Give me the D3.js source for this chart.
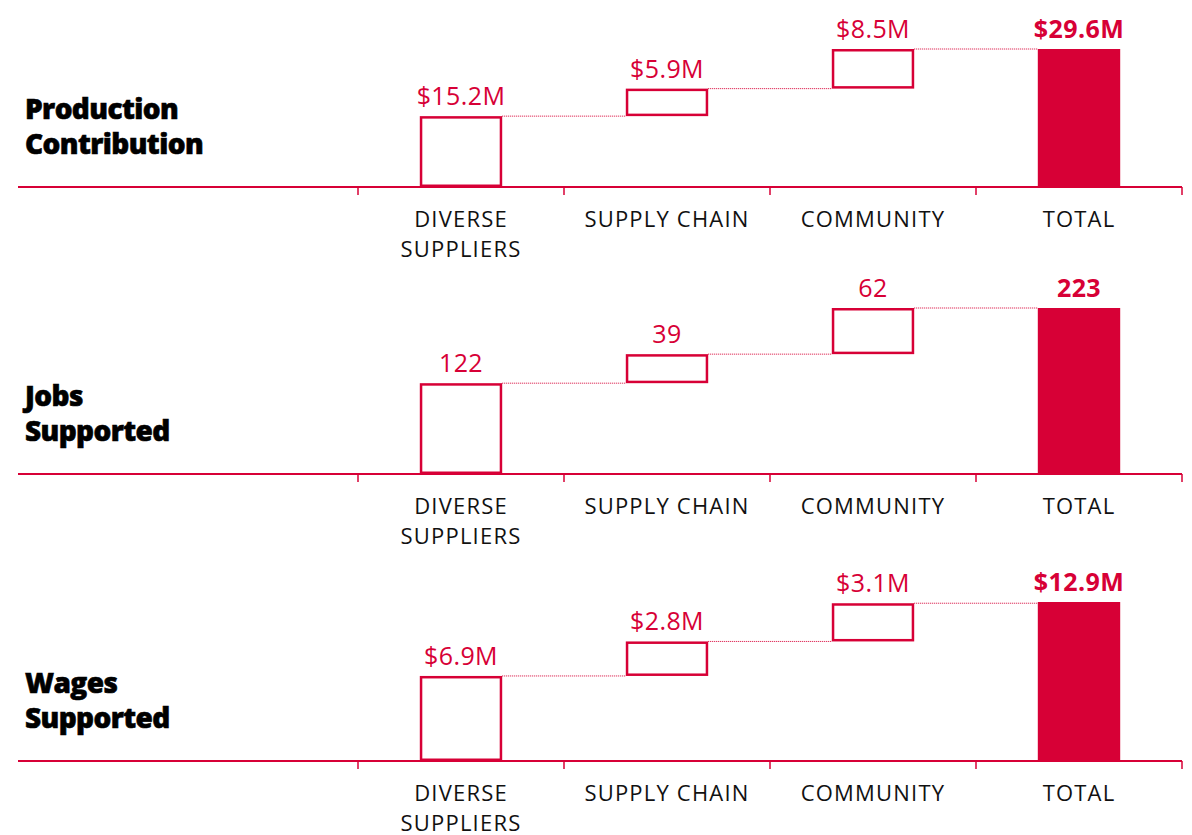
<!DOCTYPE html>
<html>
<head>
<meta charset="utf-8">
<script src="https://cdn.jsdelivr.net/npm/d3@7"></script>
<style>
  html, body { margin: 0; padding: 0; background: #fff; }
</style>
</head>
<body>
<div id="chart"></div>
<script>
// Waterfall panels: diverse suppliers -> supply chain -> community -> total

const categories = ["DIVERSE SUPPLIERS", "SUPPLY CHAIN", "COMMUNITY", "TOTAL"];
const categoryLines = [["DIVERSE", "SUPPLIERS"], ["SUPPLY CHAIN"], ["COMMUNITY"], ["TOTAL"]];

const panelTitles = [["Production", "Contribution"], ["Jobs", "Supported"], ["Wages", "Supported"]];

const productionValues = [15.2, 5.9, 8.5];
const productionTotal  = 29.6;
const productionLabels = ["$15.2M", "$5.9M", "$8.5M", "$29.6M"];

const jobsValues = [122, 39, 62];
const jobsTotal  = 223;
const jobsLabels = ["122", "39", "62", "223"];

const wagesValues = [6.9, 2.8, 3.1];
const wagesTotal  = 12.9;
const wagesLabels = ["$6.9M", "$2.8M", "$3.1M", "$12.9M"];

const RED = "#d70036";
const FONT = "'Open Sans', 'Noto Sans', sans-serif";
const width = 1192, height = 835;

const svg = d3.select("#chart").append("svg")
  .attr("width", width)
  .attr("height", height);

const x = d3.scaleBand()
  .domain(categories)
  .range([358, 1182])
  .paddingInner(0.6)
  .paddingOuter(0.3);

const panels = [
  { title: panelTitles[0], values: productionValues, total: productionTotal, labels: productionLabels, base: 187, barH: 138 },
  { title: panelTitles[1], values: jobsValues,       total: jobsTotal,       labels: jobsLabels,       base: 474, barH: 166 },
  { title: panelTitles[2], values: wagesValues,      total: wagesTotal,      labels: wagesLabels,      base: 761, barH: 159 }
];

const bw = x.bandwidth();
const step = x.step();
const bounds = categories.map(c => x(c) - x.paddingOuter() * step).concat([x.range()[1]]);

panels.forEach(p => {
  const g = svg.append("g");

  const y = d3.scaleLinear()
    .domain([0, p.total])
    .range([p.base, p.base - p.barH]);

  // running sums for the floating bars
  let run = 0;
  const steps = p.values.map(v => {
    const s = { start: run, end: run + v };
    run += v;
    return s;
  });

  // panel title
  const t = g.append("text")
    .attr("x", 25)
    .style("font-family", FONT)
    .style("font-weight", 800)
    .style("font-size", "28px")
    .style("letter-spacing", "-0.6px")
    .style("fill", "#000")
    .style("stroke", "#000")
    .style("stroke-width", 0.6);
  p.title.forEach((line, i) => {
    t.append("tspan")
      .attr("x", 25)
      .attr("y", p.base - 33 - (p.title.length - 1 - i) * 35)
      .text(line);
  });

  // baseline to the left of the axis
  g.append("line")
    .attr("x1", 18).attr("x2", bounds[0])
    .attr("y1", p.base).attr("y2", p.base)
    .attr("stroke", RED).attr("stroke-width", 2);

  // axis line with ticks at band boundaries
  g.append("line")
    .attr("x1", bounds[0]).attr("x2", bounds[bounds.length - 1])
    .attr("y1", p.base).attr("y2", p.base)
    .attr("stroke", RED).attr("stroke-width", 2);

  g.selectAll(".tick")
    .data(bounds)
    .join("line")
    .attr("x1", d => d).attr("x2", d => d)
    .attr("y1", p.base).attr("y2", p.base + 8)
    .attr("stroke", RED).attr("stroke-width", 1.5);

  // connectors
  const levels = steps.map(s => s.end);
  g.selectAll(".conn")
    .data(levels)
    .join("line")
    .attr("x1", (d, i) => x(categories[i]) + bw)
    .attr("x2", (d, i) => x(categories[i + 1]))
    .attr("y1", d => y(d))
    .attr("y2", d => y(d))
    .attr("stroke", RED)
    .attr("stroke-width", 1)
    .attr("stroke-dasharray", "1,1");

  // floating outlined bars
  g.selectAll(".step")
    .data(steps)
    .join("rect")
    .attr("x", (d, i) => x(categories[i]) + 1.25)
    .attr("width", bw - 2.5)
    .attr("y", d => y(d.end) + 1.25)
    .attr("height", d => y(d.start) - y(d.end) - 2.5)
    .attr("fill", "#fff")
    .attr("stroke", RED)
    .attr("stroke-width", 2.5);

  // total bar
  g.append("rect")
    .attr("x", x(categories[3]))
    .attr("width", bw)
    .attr("y", y(p.total))
    .attr("height", y(0) - y(p.total))
    .attr("fill", RED);

  // value labels
  const tops = steps.map(s => s.end).concat([p.total]);
  g.selectAll(".val")
    .data(p.labels)
    .join("text")
    .attr("x", (d, i) => x(categories[i]) + bw / 2)
    .attr("y", (d, i) => y(tops[i]) - 11)
    .attr("text-anchor", "middle")
    .style("font-family", FONT)
    .style("font-size", "25px")
    .style("letter-spacing", "0.4px")
    .style("font-weight", (d, i) => i === 3 ? 700 : 400)
    .style("fill", RED)
    .text(d => d);

  // category labels
  categoryLines.forEach((lines, i) => {
    const ct = g.append("text")
      .attr("text-anchor", "middle")
      .style("font-family", FONT)
      .style("font-size", "22px")
      .style("letter-spacing", "1.2px")
      .style("font-weight", 400)
      .style("fill", "#111");
    lines.forEach((line, j) => {
      ct.append("tspan")
        .attr("x", x(categories[i]) + bw / 2)
        .attr("y", p.base + 40 + j * 30)
        .text(line);
    });
  });
});
</script>
</body>
</html>
